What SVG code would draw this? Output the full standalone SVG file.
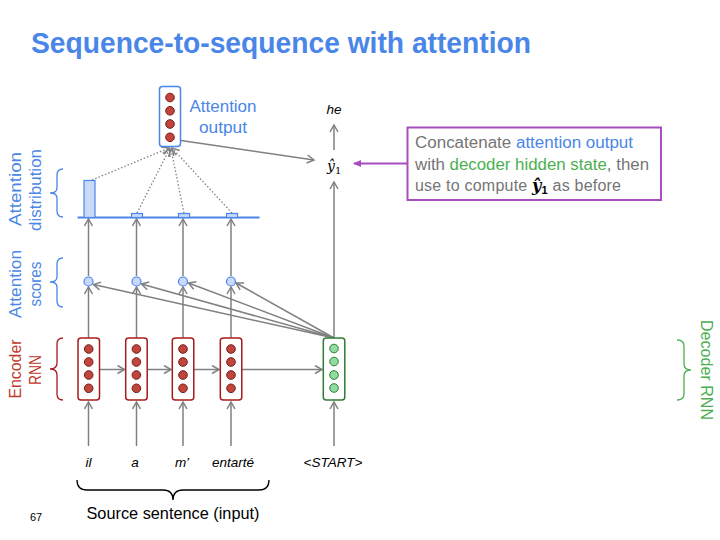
<svg xmlns="http://www.w3.org/2000/svg" width="720" height="540" viewBox="0 0 720 540">
<style>
text{font-family:"Liberation Sans",Arial,sans-serif}
.title{font-size:30px;font-weight:bold;fill:#4a86e8}
.blue{fill:#4a86e8}
.red{fill:#c0392b}
.green{fill:#4caf50}
.lbl{font-size:17px}
.word{font-size:13.5px;font-style:italic;fill:#000}
.gray{fill:#757575}
.enc{fill:#fff;stroke:#a61c1c;stroke-width:1.5}
.dec{fill:#fff;stroke:#2e7d32;stroke-width:1.5}
.att{fill:#fff;stroke:#4a86e8;stroke-width:1.5}
.rc{fill:#c0453c;stroke:#7a1a1a;stroke-width:1}
.gc{fill:#8fdba0;stroke:#2e7d32;stroke-width:1}
.sc{fill:#c9daf8;stroke:#4a86e8;stroke-width:1.2}
.bar{fill:#c9daf8;stroke:#4a86e8;stroke-width:1.2}
.ar{stroke:#808080;stroke-width:1.5;fill:none;marker-end:url(#ah)}
.dot{stroke:#808080;stroke-width:1.3;fill:none;stroke-dasharray:1.5 2;marker-end:url(#ah)}
.brace{fill:none;stroke-width:1.3}
.math{font-family:"DejaVu Serif","Liberation Serif",serif;font-style:italic}
</style>
<defs>
<marker id="ah" markerWidth="10" markerHeight="10" refX="8" refY="5" orient="auto" markerUnits="userSpaceOnUse">
<path d="M1,1 L8,5 L1,9" fill="none" stroke="#808080" stroke-width="1.5"/>
</marker>
<marker id="ahp" markerWidth="10" markerHeight="10" refX="7" refY="5" orient="auto" markerUnits="userSpaceOnUse">
<path d="M0,1.5 L8,5 L0,8.5 Z" fill="#a64dc0"/>
</marker>
</defs>
<rect width="720" height="540" fill="#fff"/>
<text class="title" x="31" y="53" textLength="500" lengthAdjust="spacingAndGlyphs">Sequence-to-sequence with attention</text>

<!-- left labels -->
<g id="lbl-dist">
<text class="lbl blue" transform="translate(21,189) rotate(-90)" text-anchor="middle" textLength="74" lengthAdjust="spacingAndGlyphs">Attention</text>
<text class="lbl blue" transform="translate(41,190) rotate(-90)" text-anchor="middle" textLength="82" lengthAdjust="spacingAndGlyphs">distribution</text>
<path class="brace" stroke="#4a86e8" d="M63,169 Q57,169 57,175 L57,188 Q57,193 50,193 Q57,193 57,198 L57,211 Q57,217 63,217"/>
</g>
<g id="lbl-scores">
<text class="lbl blue" transform="translate(21,284) rotate(-90)" text-anchor="middle" textLength="68" lengthAdjust="spacingAndGlyphs">Attention</text>
<text class="lbl blue" transform="translate(41,284) rotate(-90)" text-anchor="middle" textLength="45" lengthAdjust="spacingAndGlyphs">scores</text>
<path class="brace" stroke="#4a86e8" d="M63,258 Q57,258 57,264 L57,277 Q57,282 50,282 Q57,282 57,287 L57,301 Q57,307 63,307"/>
</g>
<g id="lbl-enc">
<text class="lbl red" transform="translate(21,369) rotate(-90)" text-anchor="middle" textLength="59" lengthAdjust="spacingAndGlyphs">Encoder</text>
<text class="lbl red" transform="translate(41,370) rotate(-90)" text-anchor="middle" textLength="30" lengthAdjust="spacingAndGlyphs">RNN</text>
<path class="brace" stroke="#a61c1c" d="M63,338 Q57,338 57,344 L57,363 Q57,369 50,369 Q57,369 57,375 L57,394 Q57,400 63,400"/>
</g>
<g id="lbl-dec">
<text class="lbl green" transform="translate(701,370) rotate(90)" text-anchor="middle" textLength="100" lengthAdjust="spacingAndGlyphs">Decoder RNN</text>
<path class="brace" stroke="#4caf50" d="M677,340 Q684,340 684,346 L684,364 Q684,370 691,370 Q684,370 684,376 L684,394 Q684,400 677,400"/>
</g>

<!-- connectors -->
<g id="connectors">
<line class="ar" x1="88.5" y1="446" x2="88.5" y2="402"/>
<line class="ar" x1="136.5" y1="446" x2="136.5" y2="402"/>
<line class="ar" x1="183" y1="446" x2="183" y2="402"/>
<line class="ar" x1="231" y1="446" x2="231" y2="402"/>
<line class="ar" x1="334" y1="446" x2="334" y2="402"/>
<line class="ar" x1="99.5" y1="369.5" x2="124.5" y2="369.5"/>
<line class="ar" x1="147.5" y1="369.5" x2="171" y2="369.5"/>
<line class="ar" x1="194" y1="369.5" x2="219" y2="369.5"/>
<line class="ar" x1="242" y1="369.5" x2="322" y2="369.5"/>
<line class="ar" x1="88.5" y1="338" x2="88.5" y2="287"/>
<line class="ar" x1="136.5" y1="338" x2="136.5" y2="287"/>
<line class="ar" x1="183" y1="338" x2="183" y2="287"/>
<line class="ar" x1="231" y1="338" x2="231" y2="287"/>
<line class="ar" x1="88.5" y1="276" x2="88.5" y2="219"/>
<line class="ar" x1="136.5" y1="276" x2="136.5" y2="219"/>
<line class="ar" x1="183" y1="276" x2="183" y2="219"/>
<line class="ar" x1="231" y1="276" x2="231" y2="219"/>
<line class="ar" x1="334" y1="338" x2="93.5" y2="284.5"/>
<line class="ar" x1="334" y1="338" x2="141.5" y2="284"/>
<line class="ar" x1="334" y1="338" x2="188.5" y2="283"/>
<line class="ar" x1="334" y1="338" x2="236" y2="283"/>
<line class="ar" x1="334" y1="338" x2="334" y2="182"/>
<line class="ar" x1="334" y1="150" x2="334" y2="125"/>
<line class="ar" x1="181" y1="140.5" x2="314" y2="160"/>
<line class="dot" x1="92" y1="180" x2="169" y2="148"/>
<line class="dot" x1="137" y1="213" x2="169.5" y2="149"/>
<line class="dot" x1="184" y1="213" x2="171" y2="149"/>
<line class="dot" x1="232" y1="213" x2="172" y2="148"/>
<line x1="407" y1="163.5" x2="354" y2="163.5" stroke="#a64dc0" stroke-width="2" marker-end="url(#ahp)"/>
</g>

<!-- distribution -->
<g id="distribution">
<line x1="77.5" y1="217.5" x2="259.5" y2="217.5" stroke="#4a86e8" stroke-width="2"/>
<rect class="bar" x="84" y="180.5" width="11" height="37"/>
<rect class="bar" x="131.5" y="213.5" width="11" height="4"/>
<rect class="bar" x="178.5" y="213.5" width="11" height="4"/>
<rect class="bar" x="226.5" y="213.5" width="11" height="4"/>
</g>

<!-- scores -->
<g id="scores">
<circle class="sc" cx="88.5" cy="281.5" r="4.5"/>
<circle class="sc" cx="136.5" cy="281.5" r="4.5"/>
<circle class="sc" cx="183" cy="281.5" r="4.5"/>
<circle class="sc" cx="231" cy="281.5" r="4.5"/>
</g>

<!-- attention output -->
<g id="attn-output">
<rect class="att" x="159.5" y="86.5" width="21" height="60" rx="3"/>
<circle class="rc" cx="170" cy="97.5" r="4.3"/>
<circle class="rc" cx="170" cy="110.8" r="4.3"/>
<circle class="rc" cx="170" cy="124" r="4.3"/>
<circle class="rc" cx="170" cy="137.3" r="4.3"/>
<text class="blue" x="223" y="112" font-size="17" text-anchor="middle" textLength="67" lengthAdjust="spacingAndGlyphs">Attention</text>
<text class="blue" x="223" y="133" font-size="17" text-anchor="middle" textLength="48" lengthAdjust="spacingAndGlyphs">output</text>
</g>

<!-- encoder nodes -->
<g id="enc1">
<rect class="enc" x="78" y="338" width="21.5" height="62" rx="3"/>
<circle class="rc" cx="88.7" cy="349" r="4.3"/><circle class="rc" cx="88.7" cy="362" r="4.3"/><circle class="rc" cx="88.7" cy="375" r="4.3"/><circle class="rc" cx="88.7" cy="388.3" r="4.3"/>
</g>
<g id="enc2">
<rect class="enc" x="125.7" y="338" width="21.5" height="62" rx="3"/>
<circle class="rc" cx="136.4" cy="349" r="4.3"/><circle class="rc" cx="136.4" cy="362" r="4.3"/><circle class="rc" cx="136.4" cy="375" r="4.3"/><circle class="rc" cx="136.4" cy="388.3" r="4.3"/>
</g>
<g id="enc3">
<rect class="enc" x="172.3" y="338" width="21.5" height="62" rx="3"/>
<circle class="rc" cx="183" cy="349" r="4.3"/><circle class="rc" cx="183" cy="362" r="4.3"/><circle class="rc" cx="183" cy="375" r="4.3"/><circle class="rc" cx="183" cy="388.3" r="4.3"/>
</g>
<g id="enc4">
<rect class="enc" x="220.3" y="338" width="21.5" height="62" rx="3"/>
<circle class="rc" cx="231" cy="349" r="4.3"/><circle class="rc" cx="231" cy="362" r="4.3"/><circle class="rc" cx="231" cy="375" r="4.3"/><circle class="rc" cx="231" cy="388.3" r="4.3"/>
</g>
<g id="dec1">
<rect class="dec" x="323.3" y="338" width="21.5" height="62" rx="3"/>
<circle class="gc" cx="334" cy="348.5" r="4.3"/><circle class="gc" cx="334" cy="361.5" r="4.3"/><circle class="gc" cx="334" cy="375" r="4.3"/><circle class="gc" cx="334" cy="388" r="4.3"/>
</g>

<!-- outputs -->
<g id="yhat">
<text class="math" x="327" y="171" font-size="14">ŷ<tspan font-size="10" font-style="normal" dy="3">1</tspan></text>
</g>
<g id="he">
<text class="word" x="334" y="114" text-anchor="middle">he</text>
</g>

<!-- words -->
<g id="words">
<text class="word" x="88.5" y="467" text-anchor="middle">il</text>
<text class="word" x="135" y="467" text-anchor="middle">a</text>
<text class="word" x="182" y="467" text-anchor="middle">m’</text>
<text class="word" x="233" y="467" text-anchor="middle">entarté</text>
<text class="word" x="333" y="467" text-anchor="middle">&lt;START&gt;</text>
</g>
<g id="source">
<path class="brace" stroke="#000" stroke-width="1.3" d="M77,480 Q77,490 87,490 L163,490 Q173,490 173,500 Q173,490 183,490 L259,490 Q269,490 269,480"/>
<text x="173" y="519" font-size="16.5" text-anchor="middle" fill="#000" textLength="173" lengthAdjust="spacingAndGlyphs">Source sentence (input)</text>
<text x="30" y="521" font-size="11" fill="#000">67</text>
</g>

<!-- note box -->
<g id="note">
<rect x="407.5" y="127.5" width="253.5" height="72.5" fill="#fff" stroke="#a64dc0" stroke-width="2"/>
<text class="gray" x="415" y="148" font-size="16" textLength="218" lengthAdjust="spacingAndGlyphs">Concatenate <tspan class="blue">attention output</tspan></text>
<text class="gray" x="415" y="170" font-size="16" textLength="234" lengthAdjust="spacingAndGlyphs">with <tspan class="green">decoder hidden state</tspan>, then</text>
<text class="gray" x="415" y="191" font-size="16" textLength="206" lengthAdjust="spacing">use to compute <tspan class="math" fill="#000" font-weight="bold">ŷ</tspan><tspan fill="#000" font-weight="bold" font-size="11" dy="3">1</tspan><tspan dy="-3"> as before</tspan></text>
</g>
</svg>
